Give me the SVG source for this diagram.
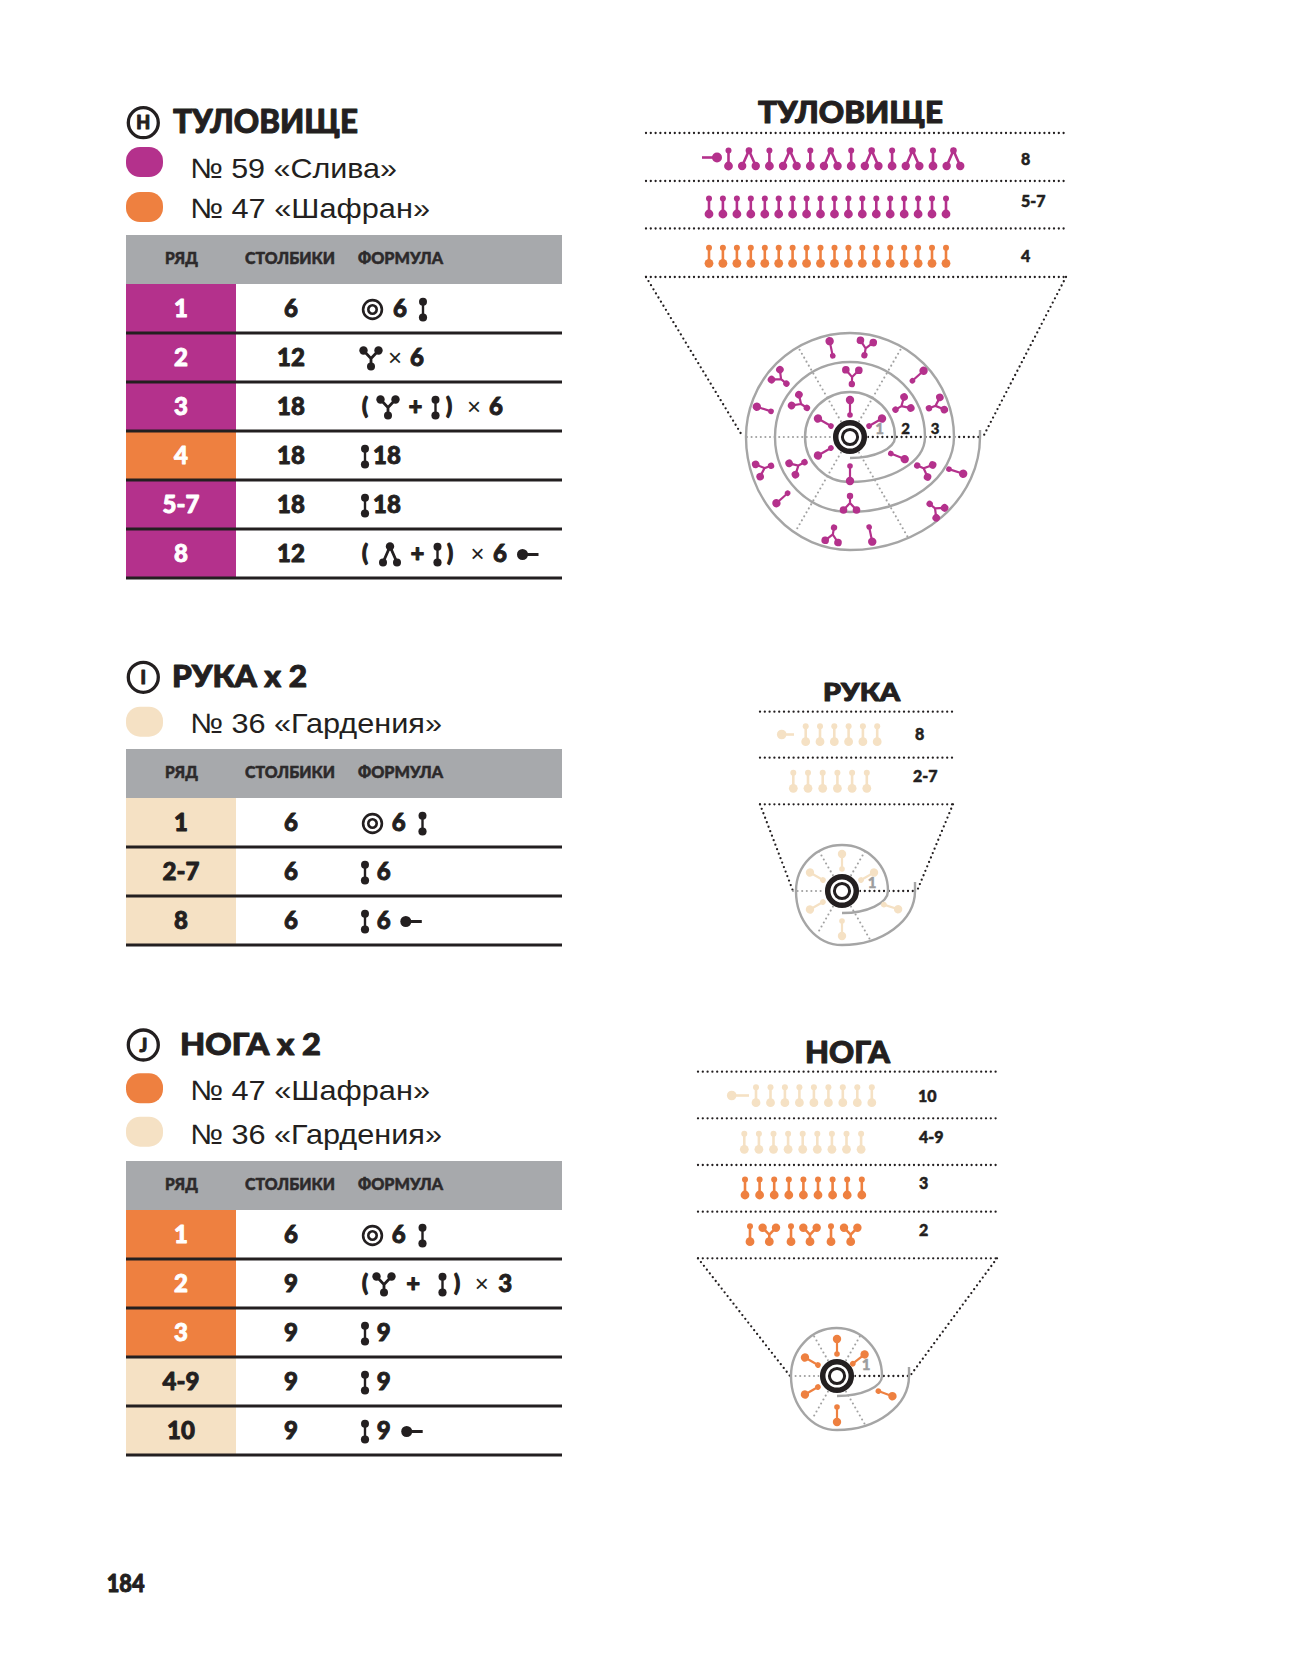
<svg xmlns="http://www.w3.org/2000/svg" width="1299" height="1654" viewBox="0 0 1299 1654">
<style>
.h{font-family:Lato,"Liberation Sans",sans-serif;font-weight:900;fill:#231f20;stroke:#231f20;stroke-width:1;stroke-linejoin:round}
.yarn{font-family:"Liberation Sans",Arial,sans-serif;font-size:28px;fill:#231f20}
.hd{font-family:Lato,"Liberation Sans",sans-serif;font-weight:900;font-size:16px;fill:#2d2a2b;stroke:#2d2a2b;stroke-width:0.5;stroke-linejoin:round}
.cell{font-family:Lato,"Liberation Sans",sans-serif;font-weight:900;font-size:24px;text-anchor:middle;stroke-width:0.9;stroke-linejoin:round}
.dk{fill:#231f20;stroke:#231f20}
.wh{fill:#fff;stroke:#fff}
.f{font-family:Lato,"Liberation Sans",sans-serif;font-weight:900;font-size:24px;fill:#231f20;stroke:#231f20;stroke-width:0.9;stroke-linejoin:round}
.p{font-family:Lato,"Liberation Sans",sans-serif;font-weight:900;font-size:22px;fill:#231f20;stroke:#231f20;stroke-width:1.1;stroke-linejoin:round}
.x{font-family:"Liberation Sans",Arial,sans-serif;font-size:24px;fill:#231f20;text-anchor:middle}
.rl{font-family:Lato,"Liberation Sans",sans-serif;font-weight:900;font-size:16px;fill:#231f20;stroke:#231f20;stroke-width:0.5;stroke-linejoin:round}
.dot{fill:none;stroke:#231f20;stroke-width:2.3;stroke-linecap:round;stroke-dasharray:0 4.8}
.gdot{fill:none;stroke:#a0a0a0;stroke-width:2.1;stroke-linecap:round;stroke-dasharray:0 4.6}
.sp{fill:none;stroke:#a5a5a5;stroke-width:2.4}
.sep{stroke:#231f20;stroke-width:2.8}
.num{font-family:Lato,"Liberation Sans",sans-serif;font-weight:900;font-size:15px;stroke-width:0.4}
</style>
<defs>
<g id="rI"><path d="M0 0V-15.5" stroke-width="2.6" fill="none"/><circle cy="-15.5" r="3" stroke="none"/><circle r="4.4" stroke="none"/></g>
<g id="rL"><path d="M-6.8 0L0 -15.5L6.8 0" stroke-width="2.6" fill="none"/><circle cy="-15.5" r="3.3" stroke="none"/><circle cx="-6.8" r="4.2" stroke="none"/><circle cx="6.8" r="4.2" stroke="none"/></g>
<g id="rY"><path d="M0 0V-7L-6.7 -14M0 -7L6.7 -14" stroke-width="2.6" fill="none"/><circle r="4.4" stroke="none"/><circle cx="-6.7" cy="-14" r="4.2" stroke="none"/><circle cx="6.7" cy="-14" r="4.2" stroke="none"/></g>
<g id="cI"><path d="M0 0V-15" stroke-width="2.2" fill="none"/><circle r="2.8" stroke="none"/><circle cy="-15" r="4.2" stroke="none"/></g>
<g id="cY"><path d="M0 0V-7L-6.5 -14M0 -7L6.5 -14" stroke-width="2.2" fill="none"/><circle r="3.2" stroke="none"/><circle cx="-6.5" cy="-14" r="3.8" stroke="none"/><circle cx="6.5" cy="-14" r="3.8" stroke="none"/></g>
<g id="tI" fill="#231f20" stroke="#231f20"><path d="M0 -7.8V8" stroke-width="2.4" fill="none"/><circle cy="-7.8" r="4" stroke="none"/><circle cy="8" r="4.1" stroke="none"/></g>
<g id="tY" fill="#231f20" stroke="#231f20"><path d="M0 8V0L-7.5 -8M0 0L7.5 -8" stroke-width="2.8" fill="none"/><circle cy="8" r="4" stroke="none"/><circle cx="-7.5" cy="-8" r="4.2" stroke="none"/><circle cx="7.5" cy="-8" r="4.2" stroke="none"/></g>
<g id="tL" fill="#231f20" stroke="#231f20"><path d="M-7 8L0 -8L7 8" stroke-width="2.8" fill="none"/><circle cy="-8" r="4.2" stroke="none"/><circle cx="-7" cy="8" r="4" stroke="none"/><circle cx="7" cy="8" r="4" stroke="none"/></g>
<g id="tR" fill="none" stroke="#231f20" stroke-width="2.6"><circle r="9.4"/><circle r="4.2"/></g>
<g id="tS"><circle r="5.5" fill="#231f20"/><path d="M4 0H16" stroke="#231f20" stroke-width="3"/></g>
<g id="mr"><circle r="17.5" fill="#fff"/><circle r="14.3" fill="none" stroke="#231f20" stroke-width="5.5"/><circle r="7.6" fill="none" stroke="#231f20" stroke-width="3"/></g>
</defs>
<rect width="1299" height="1654" fill="#fff"/>

<!-- ===== BODY (ТУЛОВИЩЕ) ===== -->
<g id="body-heading">
<circle cx="143.3" cy="122.7" r="15" fill="none" stroke="#231f20" stroke-width="3.3"/>
<text class="h" x="143.3" y="129.3" font-size="18" text-anchor="middle" stroke-width="0.5">H</text>
<text class="h" x="173" y="133" font-size="33" textLength="185" lengthAdjust="spacingAndGlyphs">ТУЛОВИЩЕ</text>
</g>
<g id="body-yarns">
<rect x="126" y="147" width="37" height="30" rx="14" fill="#b4318c"/>
<text class="yarn" x="190" y="178" textLength="207" lengthAdjust="spacingAndGlyphs">№ 59 «Слива»</text>
<rect x="126" y="192" width="37" height="30" rx="14" fill="#ee8040"/>
<text class="yarn" x="190" y="218" textLength="240" lengthAdjust="spacingAndGlyphs">№ 47 «Шафран»</text>
</g>
<g id="body-table">
<rect x="126" y="235" width="436" height="49" fill="#a7a9ac"/>
<text class="hd" x="165" y="264" textLength="33" lengthAdjust="spacingAndGlyphs">РЯД</text>
<text class="hd" x="245" y="264" textLength="90" lengthAdjust="spacingAndGlyphs">СТОЛБИКИ</text>
<text class="hd" x="358" y="264" textLength="85" lengthAdjust="spacingAndGlyphs">ФОРМУЛА</text>
<rect x="126" y="284" width="110" height="147" fill="#b4318c"/>
<rect x="126" y="431" width="110" height="49" fill="#ee8040"/>
<rect x="126" y="480" width="110" height="98" fill="#b4318c"/>
<text class="cell wh" x="181" y="316.5">1</text>
<text class="cell wh" x="181" y="365.5">2</text>
<text class="cell wh" x="181" y="414.5">3</text>
<text class="cell wh" x="181" y="463.5">4</text>
<text class="cell wh" x="181" y="512.5">5-7</text>
<text class="cell wh" x="181" y="561.5">8</text>
<text class="cell dk" x="291" y="316.5">6</text>
<text class="cell dk" x="291" y="365.5">12</text>
<text class="cell dk" x="291" y="414.5">18</text>
<text class="cell dk" x="291" y="463.5">18</text>
<text class="cell dk" x="291" y="512.5">18</text>
<text class="cell dk" x="291" y="561.5">12</text>
<use href="#tR" x="372.5" y="309.5"/><text class="f" x="393" y="316.5">6</text><use href="#tI" x="423" y="309.5"/>
<use href="#tY" x="371" y="358.5"/><text class="x" x="395" y="365.5">×</text><text class="f" x="410" y="365.5">6</text>
<text class="p" x="362" y="414">(</text><use href="#tY" x="388" y="407.5"/><text class="f" x="415.5" y="415" text-anchor="middle">+</text><use href="#tI" x="435.5" y="407.5"/><text class="p" x="446" y="414">)</text><text class="x" x="474" y="414.5">×</text><text class="f" x="489" y="415">6</text>
<use href="#tI" x="365" y="456.5"/><text class="f" x="373" y="464">18</text>
<use href="#tI" x="365" y="505.5"/><text class="f" x="373" y="513">18</text>
<text class="p" x="362" y="561">(</text><use href="#tL" x="390" y="554.5"/><text class="f" x="417.5" y="562" text-anchor="middle">+</text><use href="#tI" x="437.5" y="554.5"/><text class="p" x="447" y="561">)</text><text class="x" x="477.5" y="561.5">×</text><text class="f" x="493" y="562">6</text><use href="#tS" x="522.5" y="554.5"/>
<path class="sep" d="M126 333H562M126 382H562M126 431H562M126 480H562M126 529H562M126 578H562"/>
</g>

<g id="body-diagram">
<text class="h" x="758" y="123" font-size="30" textLength="185" lengthAdjust="spacingAndGlyphs">ТУЛОВИЩЕ</text>
<g id="body-guides">
<path class="dot" d="M646 133H1066M646 181H1066M646 228.5H1066M646 277H1066"/>
<path class="dot" d="M646 277L743 437M1066 277L983 437M868 437H983"/>
<path class="gdot" d="M747 437H832M841 421.4L798.5 347.8M859 421.4L901.5 347.8M859 452.6L908.5 538.3M841 452.6L796.5 529.7"/>
</g>
<path class="sp" d="M850 458A45 21 0 0 0 895 437A45 45 0 1 0 850 482A75 45 0 0 0 925 437A75 75 0 1 0 850 512A104 75 0 0 0 954 437A104 104 0 0 0 746 437A104 113 0 0 0 850 550A130 113 0 0 0 980 437L980 430"/>
<use href="#mr" x="850" y="437"/>
<text class="num" x="879.5" y="434" text-anchor="middle" fill="#9d9d9d" stroke="#9d9d9d">1</text>
<text class="num" x="905.5" y="434" text-anchor="middle" fill="#231f20" stroke="#231f20">2</text>
<text class="num" x="935" y="434" text-anchor="middle" fill="#231f20" stroke="#231f20">3</text>
<g fill="#b4318c" stroke="#b4318c">
<use href="#cI" transform="translate(850 437) rotate(0) translate(0 -22)"/>
<use href="#cI" transform="translate(850 437) rotate(60) translate(0 -22)"/>
<use href="#cI" transform="translate(850 437) rotate(112) translate(0 -44)"/>
<use href="#cI" transform="translate(850 437) rotate(180) translate(0 -29)"/>
<use href="#cI" transform="translate(850 437) rotate(240) translate(0 -22)"/>
<use href="#cI" transform="translate(850 437) rotate(300) translate(0 -22)"/>
<use href="#cY" transform="translate(850 437) rotate(2) translate(0 -53)"/>
<use href="#cY" transform="translate(850 437) rotate(59) translate(0 -53)"/>
<use href="#cY" transform="translate(850 437) rotate(113) translate(0 -73)"/>
<use href="#cY" transform="translate(850 437) rotate(180) translate(0 -59)"/>
<use href="#cY" transform="translate(850 437) rotate(241) translate(0 -52)"/>
<use href="#cY" transform="translate(850 437) rotate(304) translate(0 -52)"/>
<use href="#cY" transform="translate(850 437) rotate(10) translate(0 -83)"/>
<use href="#cI" transform="translate(850 437) rotate(-12) translate(0 -83)"/>
<use href="#cY" transform="translate(850 437) rotate(70) translate(0 -84)"/>
<use href="#cI" transform="translate(850 437) rotate(48) translate(0 -84)"/>
<use href="#cY" transform="translate(850 437) rotate(130) translate(0 -104)"/>
<use href="#cI" transform="translate(850 437) rotate(108) translate(0 -104)"/>
<use href="#cY" transform="translate(850 437) rotate(190) translate(0 -92)"/>
<use href="#cI" transform="translate(850 437) rotate(168) translate(0 -92)"/>
<use href="#cY" transform="translate(850 437) rotate(250) translate(0 -84)"/>
<use href="#cI" transform="translate(850 437) rotate(228) translate(0 -84)"/>
<use href="#cY" transform="translate(850 437) rotate(310) translate(0 -83)"/>
<use href="#cI" transform="translate(850 437) rotate(288) translate(0 -83)"/>
</g>
<g fill="#b4318c" stroke="#b4318c">
<path d="M702 157.5H714" stroke-width="2.6"/><circle cx="717" cy="157.5" r="5" stroke="none"/>
<use href="#rI" x="728.5" y="166"/><use href="#rL" x="748.95" y="166"/><use href="#rI" x="769.4" y="166"/><use href="#rL" x="789.85" y="166"/><use href="#rI" x="810.3" y="166"/><use href="#rL" x="830.75" y="166"/><use href="#rI" x="851.2" y="166"/><use href="#rL" x="871.65" y="166"/><use href="#rI" x="892.1" y="166"/><use href="#rL" x="912.55" y="166"/><use href="#rI" x="933" y="166"/><use href="#rL" x="953.45" y="166"/>
<use href="#rI" x="709" y="214"/><use href="#rI" x="722.9" y="214"/><use href="#rI" x="736.9" y="214"/><use href="#rI" x="750.8" y="214"/><use href="#rI" x="764.8" y="214"/><use href="#rI" x="778.7" y="214"/><use href="#rI" x="792.6" y="214"/><use href="#rI" x="806.6" y="214"/><use href="#rI" x="820.5" y="214"/><use href="#rI" x="834.5" y="214"/><use href="#rI" x="848.4" y="214"/><use href="#rI" x="862.3" y="214"/><use href="#rI" x="876.3" y="214"/><use href="#rI" x="890.2" y="214"/><use href="#rI" x="904.2" y="214"/><use href="#rI" x="918.1" y="214"/><use href="#rI" x="932" y="214"/><use href="#rI" x="946" y="214"/>
</g>
<g fill="#ee8040" stroke="#ee8040">
<use href="#rI" x="709" y="263.3"/><use href="#rI" x="722.9" y="263.3"/><use href="#rI" x="736.9" y="263.3"/><use href="#rI" x="750.8" y="263.3"/><use href="#rI" x="764.8" y="263.3"/><use href="#rI" x="778.7" y="263.3"/><use href="#rI" x="792.6" y="263.3"/><use href="#rI" x="806.6" y="263.3"/><use href="#rI" x="820.5" y="263.3"/><use href="#rI" x="834.5" y="263.3"/><use href="#rI" x="848.4" y="263.3"/><use href="#rI" x="862.3" y="263.3"/><use href="#rI" x="876.3" y="263.3"/><use href="#rI" x="890.2" y="263.3"/><use href="#rI" x="904.2" y="263.3"/><use href="#rI" x="918.1" y="263.3"/><use href="#rI" x="932" y="263.3"/><use href="#rI" x="946" y="263.3"/>
</g>
<text class="rl" x="1021" y="165">8</text>
<text class="rl" x="1021" y="206.7">5-7</text>
<text class="rl" x="1021" y="261.7">4</text>
</g>

<!-- ===== ARM (РУКА) ===== -->
<g id="arm-heading">
<circle cx="143.3" cy="677.3" r="15" fill="none" stroke="#231f20" stroke-width="3.3"/>
<text class="h" x="143.3" y="683.8" font-size="18" text-anchor="middle" stroke-width="0.5">I</text>
<text class="h" x="172" y="687.3" font-size="31" textLength="135" lengthAdjust="spacingAndGlyphs">РУКА x 2</text>
</g>
<g id="arm-yarns">
<rect x="126" y="706.7" width="37" height="30" rx="14" fill="#f5e1c4"/>
<text class="yarn" x="190" y="733.3" textLength="252" lengthAdjust="spacingAndGlyphs">№ 36 «Гардения»</text>
</g>
<g id="arm-table">
<rect x="126" y="749" width="436" height="49" fill="#a7a9ac"/>
<text class="hd" x="165" y="778" textLength="33" lengthAdjust="spacingAndGlyphs">РЯД</text>
<text class="hd" x="245" y="778" textLength="90" lengthAdjust="spacingAndGlyphs">СТОЛБИКИ</text>
<text class="hd" x="358" y="778" textLength="85" lengthAdjust="spacingAndGlyphs">ФОРМУЛА</text>
<rect x="126" y="798" width="110" height="147" fill="#f5e1c4"/>
<text class="cell dk" x="181" y="830.5">1</text>
<text class="cell dk" x="181" y="879.5">2-7</text>
<text class="cell dk" x="181" y="928.5">8</text>
<text class="cell dk" x="291" y="830.5">6</text>
<text class="cell dk" x="291" y="879.5">6</text>
<text class="cell dk" x="291" y="928.5">6</text>
<use href="#tR" x="372.5" y="823.5"/><text class="f" x="391.7" y="830.5">6</text><use href="#tI" x="422.5" y="823.5"/>
<use href="#tI" x="365" y="872.5"/><text class="f" x="376.7" y="880">6</text>
<use href="#tI" x="365" y="921.5"/><text class="f" x="376.7" y="929">6</text><use href="#tS" x="405.8" y="921.5"/>
<path class="sep" d="M126 847H562M126 896H562M126 945H562"/>
</g>

<g id="arm-diagram">
<text class="h" x="823" y="700.5" font-size="25" textLength="77" lengthAdjust="spacingAndGlyphs">РУКА</text>
<path class="dot" d="M760 711.7H953M760 757.7H953M760 804.3H953"/>
<path class="dot" d="M760 804.3L793 891M953 804.3L917 891M860 891H917"/>
<path class="gdot" d="M793 891H824M833 875.4L819 851.2M851 875.4L865 851.2M851 906.6L870 939.5M833 906.6L818 932.6"/>
<path class="sp" d="M842 913A46 22 0 0 0 888 891A46 46 0 0 0 796 891A46 54 0 0 0 842 945A73 54 0 0 0 915 891L915 882"/>
<use href="#mr" x="842" y="891"/>
<text class="num" x="872" y="888" text-anchor="middle" font-size="14" fill="#9d9d9d" stroke="#9d9d9d">1</text>
<g fill="#f5e1c4" stroke="#f5e1c4">
<use href="#cI" transform="translate(842 891) rotate(0) translate(0 -22)"/>
<use href="#cI" transform="translate(842 891) rotate(60) translate(0 -22)"/>
<use href="#cI" transform="translate(842 891) rotate(108) translate(0 -44)"/>
<use href="#cI" transform="translate(842 891) rotate(180) translate(0 -30)"/>
<use href="#cI" transform="translate(842 891) rotate(240) translate(0 -22)"/>
<use href="#cI" transform="translate(842 891) rotate(300) translate(0 -22)"/>
<circle cx="781.7" cy="734.5" r="4.8" stroke="none"/><path d="M785 734.5H794" stroke-width="2.6"/>
<use href="#rI" x="805.7" y="741.7"/><use href="#rI" x="820" y="741.7"/><use href="#rI" x="834.3" y="741.7"/><use href="#rI" x="848.6" y="741.7"/><use href="#rI" x="862.9" y="741.7"/><use href="#rI" x="877.2" y="741.7"/>
<use href="#rI" x="793.3" y="788.3"/><use href="#rI" x="808" y="788.3"/><use href="#rI" x="822.7" y="788.3"/><use href="#rI" x="837.4" y="788.3"/><use href="#rI" x="852.1" y="788.3"/><use href="#rI" x="866.8" y="788.3"/>
</g>
<text class="rl" x="915" y="740">8</text>
<text class="rl" x="913" y="781.7">2-7</text>
</g>

<!-- ===== LEG (НОГА) ===== -->
<g id="leg-heading">
<circle cx="143.3" cy="1045" r="15" fill="none" stroke="#231f20" stroke-width="3.3"/>
<text class="h" x="143.3" y="1051.5" font-size="18" text-anchor="middle" stroke-width="0.5">J</text>
<text class="h" x="180" y="1055" font-size="31" textLength="141" lengthAdjust="spacingAndGlyphs">НОГА x 2</text>
</g>
<g id="leg-yarns">
<rect x="126" y="1073.3" width="37" height="30" rx="14" fill="#ee8040"/>
<text class="yarn" x="190" y="1100" textLength="240" lengthAdjust="spacingAndGlyphs">№ 47 «Шафран»</text>
<rect x="126" y="1116.7" width="37" height="30" rx="14" fill="#f5e1c4"/>
<text class="yarn" x="190" y="1144" textLength="252" lengthAdjust="spacingAndGlyphs">№ 36 «Гардения»</text>
</g>
<g id="leg-table">
<rect x="126" y="1161" width="436" height="49" fill="#a7a9ac"/>
<text class="hd" x="165" y="1190" textLength="33" lengthAdjust="spacingAndGlyphs">РЯД</text>
<text class="hd" x="245" y="1190" textLength="90" lengthAdjust="spacingAndGlyphs">СТОЛБИКИ</text>
<text class="hd" x="358" y="1190" textLength="85" lengthAdjust="spacingAndGlyphs">ФОРМУЛА</text>
<rect x="126" y="1210" width="110" height="147" fill="#ee8040"/>
<rect x="126" y="1357" width="110" height="98" fill="#f5e1c4"/>
<text class="cell wh" x="181" y="1242.5">1</text>
<text class="cell wh" x="181" y="1291.5">2</text>
<text class="cell wh" x="181" y="1340.5">3</text>
<text class="cell dk" x="181" y="1389.5">4-9</text>
<text class="cell dk" x="181" y="1438.5">10</text>
<text class="cell dk" x="291" y="1242.5">6</text>
<text class="cell dk" x="291" y="1291.5">9</text>
<text class="cell dk" x="291" y="1340.5">9</text>
<text class="cell dk" x="291" y="1389.5">9</text>
<text class="cell dk" x="291" y="1438.5">9</text>
<use href="#tR" x="372.5" y="1235.5"/><text class="f" x="391.7" y="1242.5">6</text><use href="#tI" x="422.5" y="1235.5"/>
<text class="p" x="362" y="1291">(</text><use href="#tY" x="384" y="1284.5"/><text class="f" x="413.3" y="1292" text-anchor="middle">+</text><use href="#tI" x="442.5" y="1284.5"/><text class="p" x="454" y="1291">)</text><text class="x" x="481.7" y="1291.5">×</text><text class="f" x="498.3" y="1292">3</text>
<use href="#tI" x="365" y="1333.5"/><text class="f" x="376.7" y="1341">9</text>
<use href="#tI" x="365" y="1382.5"/><text class="f" x="376.7" y="1390">9</text>
<use href="#tI" x="365" y="1431.5"/><text class="f" x="376.7" y="1439">9</text><use href="#tS" x="406.7" y="1431.5"/>
<path class="sep" d="M126 1259H562M126 1308H562M126 1357H562M126 1406H562M126 1455H562"/>
</g>

<g id="leg-diagram">
<text class="h" x="805" y="1063.3" font-size="30" textLength="85" lengthAdjust="spacingAndGlyphs">НОГА</text>
<path class="dot" d="M698 1071.7H997M698 1118.3H997M698 1165H997M698 1211.7H997M698 1258.3H997"/>
<path class="dot" d="M698 1258.3L790 1376M997 1258.3L910 1376M855 1376H910"/>
<path class="gdot" d="M791 1376H819M828 1360.4L813.5 1335.3M846 1360.4L861.5 1333.6M846 1391.6L865 1424.5M828 1391.6L813 1417.6"/>
<path class="sp" d="M837 1396A45 20 0 0 0 882 1376A45.5 48 0 0 0 791 1376A46 54 0 0 0 837 1430A72 54 0 0 0 909 1376L909 1367"/>
<use href="#mr" x="837" y="1376"/>
<text class="num" x="866" y="1370" text-anchor="middle" font-size="14" fill="#9d9d9d" stroke="#9d9d9d">1</text>
<g fill="#ee8040" stroke="#ee8040">
<use href="#cI" transform="translate(837 1376) rotate(0) translate(0 -22)"/>
<use href="#cI" transform="translate(837 1376) rotate(52) translate(0 -20)"/>
<use href="#cI" transform="translate(837 1376) rotate(110) translate(0 -44)"/>
<use href="#cI" transform="translate(837 1376) rotate(180) translate(0 -31)"/>
<use href="#cI" transform="translate(837 1376) rotate(240) translate(0 -22)"/>
<use href="#cI" transform="translate(837 1376) rotate(300) translate(0 -22)"/>
<use href="#rI" x="745" y="1195"/><use href="#rI" x="759.6" y="1195"/><use href="#rI" x="774.2" y="1195"/><use href="#rI" x="788.8" y="1195"/><use href="#rI" x="803.4" y="1195"/><use href="#rI" x="818" y="1195"/><use href="#rI" x="832.6" y="1195"/><use href="#rI" x="847.2" y="1195"/><use href="#rI" x="861.8" y="1195"/>
<use href="#rI" x="750" y="1241.7"/><use href="#rY" x="769.3" y="1241.7"/><use href="#rI" x="791" y="1241.7"/><use href="#rY" x="810" y="1241.7"/><use href="#rI" x="831" y="1241.7"/><use href="#rY" x="850.7" y="1241.7"/>
</g>
<g fill="#f5e1c4" stroke="#f5e1c4">
<circle cx="731.7" cy="1095.5" r="4.8" stroke="none"/><path d="M735 1095.5H749" stroke-width="2.6"/>
<use href="#rI" x="756" y="1102.7"/><use href="#rI" x="770.5" y="1102.7"/><use href="#rI" x="784.9" y="1102.7"/><use href="#rI" x="799.4" y="1102.7"/><use href="#rI" x="813.9" y="1102.7"/><use href="#rI" x="828.4" y="1102.7"/><use href="#rI" x="842.8" y="1102.7"/><use href="#rI" x="857.3" y="1102.7"/><use href="#rI" x="871.8" y="1102.7"/>
<use href="#rI" x="744.3" y="1149.3"/><use href="#rI" x="758.9" y="1149.3"/><use href="#rI" x="773.5" y="1149.3"/><use href="#rI" x="788.1" y="1149.3"/><use href="#rI" x="802.7" y="1149.3"/><use href="#rI" x="817.3" y="1149.3"/><use href="#rI" x="831.9" y="1149.3"/><use href="#rI" x="846.5" y="1149.3"/><use href="#rI" x="861.1" y="1149.3"/>
</g>
<text class="rl" x="918" y="1101.7">10</text>
<text class="rl" x="919" y="1143.3">4-9</text>
<text class="rl" x="919" y="1189">3</text>
<text class="rl" x="919" y="1236">2</text>
</g>

<g id="page-number">
<text class="h" x="106.7" y="1591.7" font-size="25" textLength="38" lengthAdjust="spacingAndGlyphs">184</text>
</g>
</svg>
